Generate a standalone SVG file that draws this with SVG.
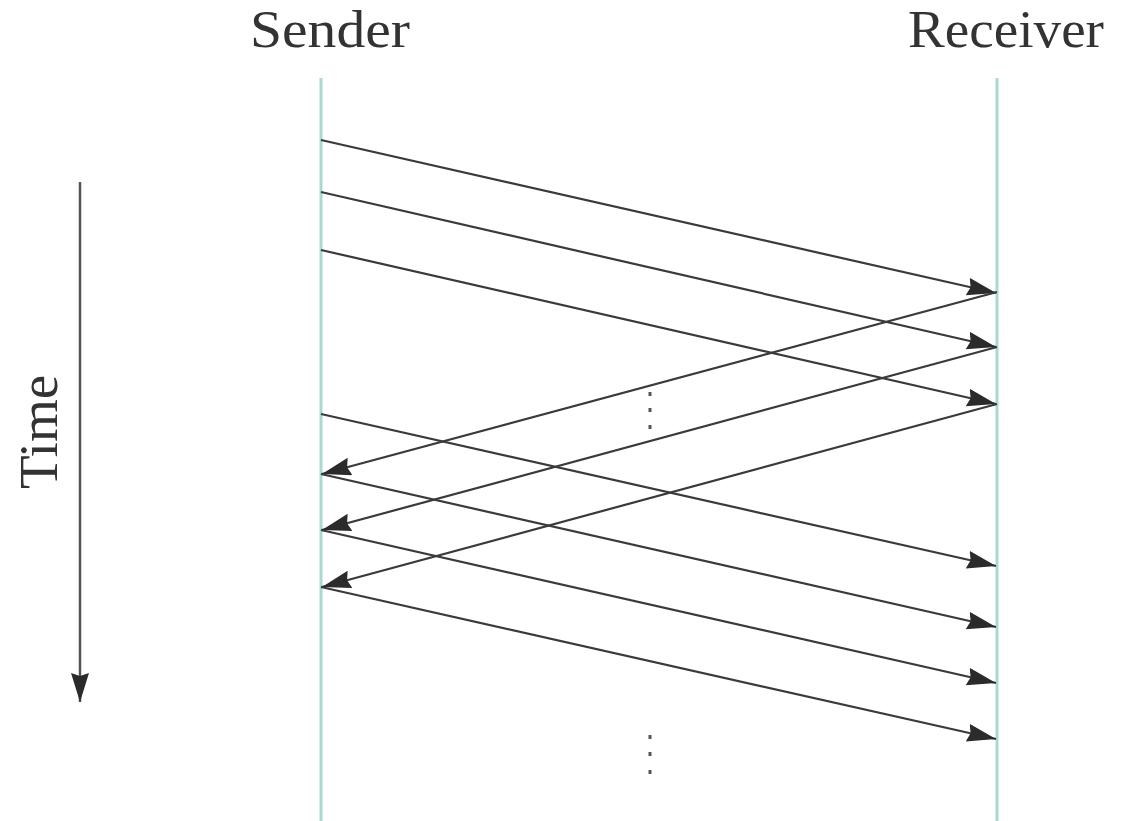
<svg xmlns="http://www.w3.org/2000/svg" width="1124" height="821" viewBox="0 0 1124 821">
<style>
.lbl{font-family:"Liberation Serif","Times New Roman",serif;font-size:53px;fill:#333}
.life{stroke:#a9d9d1;stroke-width:3;fill:none}
.msg{stroke:#3a3a3a;stroke-width:2.2;fill:none;marker-end:url(#ah)}
.dot{fill:#555}
</style>
<defs>
<marker id="ah" markerUnits="userSpaceOnUse" markerWidth="34" markerHeight="22" refX="29" refY="9" orient="auto">
<path d="M0,0 L29,9 L0,18 L3,9 Z" fill="#2b2b2b"/>
</marker>
</defs>
<g id="sender">
<text class="lbl" x="250" y="47" textLength="160" lengthAdjust="spacingAndGlyphs">Sender</text>
<line class="life" x1="321" y1="78" x2="321" y2="821"/>
</g>
<g id="receiver">
<text class="lbl" x="908" y="47" textLength="196" lengthAdjust="spacingAndGlyphs">Receiver</text>
<line class="life" x1="997" y1="78" x2="997" y2="821"/>
</g>
<g id="time">
<text class="lbl" transform="translate(57,432) rotate(-90)" text-anchor="middle" style="font-size:55px">Time</text>
<line x1="80" y1="182" x2="80" y2="702" stroke="#555" stroke-width="2.5" marker-end="url(#ah)"/>
</g>
<g id="connectors">
<line class="msg" x1="321" y1="140" x2="996" y2="293"/>
<line class="msg" x1="321" y1="192" x2="996" y2="347"/>
<line class="msg" x1="321" y1="250" x2="996" y2="404"/>
<line class="msg" x1="997" y1="292" x2="322" y2="474"/>
<line class="msg" x1="997" y1="347" x2="322" y2="530"/>
<line class="msg" x1="997" y1="404" x2="322" y2="587"/>
<line class="msg" x1="321" y1="414" x2="996" y2="566"/>
<line class="msg" x1="321" y1="474" x2="996" y2="627"/>
<line class="msg" x1="321" y1="530" x2="996" y2="683"/>
<line class="msg" x1="321" y1="587" x2="996" y2="739"/>
</g>
<g id="dots">
<rect class="dot" x="648.5" y="392" width="3" height="4"/>
<rect class="dot" x="648.5" y="408" width="3" height="4"/>
<rect class="dot" x="648.5" y="425" width="3" height="4"/>
<rect class="dot" x="648.5" y="735" width="3" height="4"/>
<rect class="dot" x="648.5" y="752" width="3" height="4"/>
<rect class="dot" x="648.5" y="770" width="3" height="4"/>
</g>
</svg>
